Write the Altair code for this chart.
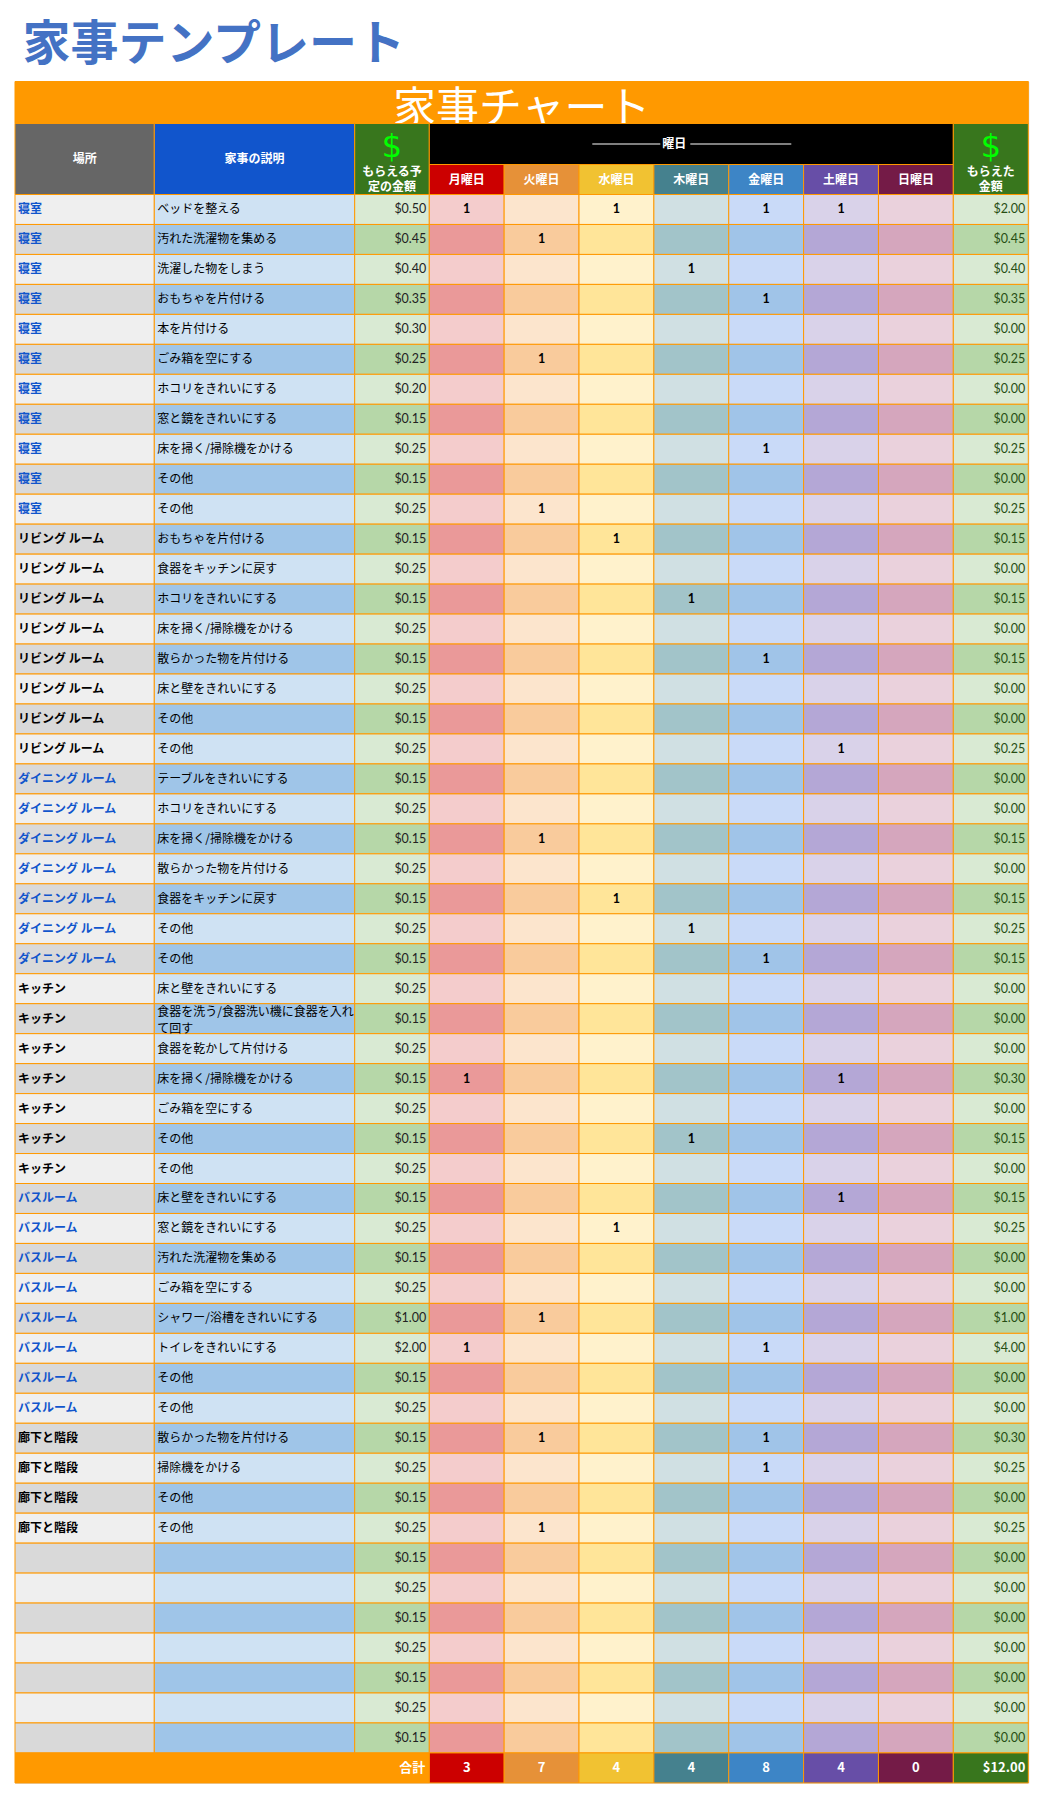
import altair as alt
import pandas as pd

# ---------------- data ----------------
title_text = "家事テンプレート"
chart_heading = "家事チャート"
col_headers = ["場所", "家事の説明"]
planned_header = ["もらえる予", "定の金額"]
earned_header = ["もらえた", "金額"]
dollar_sign = "$"
days_header = "曜日"
days = ["月曜日", "火曜日", "水曜日", "木曜日", "金曜日", "土曜日", "日曜日"]
total_label = "合計"

locations = (["寝室"] * 11 + ["リビング ルーム"] * 8 + ["ダイニング ルーム"] * 7
             + ["キッチン"] * 7 + ["バスルーム"] * 8 + ["廊下と階段"] * 4 + [""] * 7)

chores = [
    "ベッドを整える", "汚れた洗濯物を集める", "洗濯した物をしまう", "おもちゃを片付ける",
    "本を片付ける", "ごみ箱を空にする", "ホコリをきれいにする", "窓と鏡をきれいにする",
    "床を掃く/掃除機をかける", "その他", "その他",
    "おもちゃを片付ける", "食器をキッチンに戻す", "ホコリをきれいにする", "床を掃く/掃除機をかける",
    "散らかった物を片付ける", "床と壁をきれいにする", "その他", "その他",
    "テーブルをきれいにする", "ホコリをきれいにする", "床を掃く/掃除機をかける", "散らかった物を片付ける",
    "食器をキッチンに戻す", "その他", "その他",
    "床と壁をきれいにする", "食器を洗う/食器洗い機に食器を入れ\nて回す", "食器を乾かして片付ける",
    "床を掃く/掃除機をかける", "ごみ箱を空にする", "その他", "その他",
    "床と壁をきれいにする", "窓と鏡をきれいにする", "汚れた洗濯物を集める", "ごみ箱を空にする",
    "シャワー/浴槽をきれいにする", "トイレをきれいにする", "その他", "その他",
    "散らかった物を片付ける", "掃除機をかける", "その他", "その他",
    "", "", "", "", "", "", "",
]

planned = [
    0.50, 0.45, 0.40, 0.35, 0.30, 0.25, 0.20, 0.15, 0.25, 0.15, 0.25,
    0.15, 0.25, 0.15, 0.25, 0.15, 0.25, 0.15, 0.25,
    0.15, 0.25, 0.15, 0.25, 0.15, 0.25, 0.15,
    0.25, 0.15, 0.25, 0.15, 0.25, 0.15, 0.25,
    0.15, 0.25, 0.15, 0.25, 1.00, 2.00, 0.15, 0.25,
    0.15, 0.25, 0.15, 0.25,
    0.15, 0.25, 0.15, 0.25, 0.15, 0.25, 0.15,
]

# rows (1-based) with a "1" for each day
done_mon = [1, 30, 39]
done_tue = [2, 6, 11, 22, 38, 42, 45]
done_wed = [1, 12, 24, 35]
done_thu = [3, 14, 25, 32]
done_fri = [1, 4, 9, 16, 26, 39, 42, 43]
done_sat = [1, 19, 30, 34]
done_sun = []

earned = [
    2.00, 0.45, 0.40, 0.35, 0.00, 0.25, 0.00, 0.00, 0.25, 0.00, 0.25,
    0.15, 0.00, 0.15, 0.00, 0.15, 0.00, 0.00, 0.25,
    0.00, 0.00, 0.15, 0.00, 0.15, 0.25, 0.15,
    0.00, 0.00, 0.00, 0.30, 0.00, 0.15, 0.00,
    0.15, 0.25, 0.00, 0.00, 1.00, 4.00, 0.00, 0.00,
    0.30, 0.25, 0.00, 0.25,
    0.00, 0.00, 0.00, 0.00, 0.00, 0.00, 0.00,
]

day_totals = [3, 7, 4, 4, 8, 4, 0]
grand_total = 12.00

# ---------------- layout & style ----------------
col_w = [139.3, 200.4, 74.6] + [74.86] * 7 + [75.0]
xb = [0.0]
for w in col_w:
    xb.append(xb[-1] + w)
W = xb[-1]
band_h, head1_h, head2_h, row_h = 42, 41, 30, 29.97
n = len(chores)
hy0 = band_h
hmid = band_h + head1_h
hy1 = hmid + head2_h
fy0 = hy1 + n * row_h
H = fy0 + 30

ORANGE = "#FF9900"
day_colors = ["#CC0000", "#E69138", "#F1C232", "#45818E", "#3D85C6", "#674EA7", "#741B47"]
col_fill = [("#EFEFEF", "#D9D9D9"), ("#CFE2F3", "#9FC5E8"), ("#D9EAD3", "#B6D7A8"),
            ("#F4CCCC", "#EA9999"), ("#FCE5CD", "#F9CB9C"), ("#FFF2CC", "#FFE599"),
            ("#D0E0E3", "#A2C4C9"), ("#C9DAF8", "#A0C4E8"), ("#D9D2E9", "#B4A7D6"),
            ("#EAD1DC", "#D5A6BD"), ("#D9EAD3", "#B6D7A8")]
loc_color = {"寝室": "#1155CC", "リビング ルーム": "#000000", "ダイニング ルーム": "#1155CC",
             "キッチン": "#000000", "バスルーム": "#1155CC", "廊下と階段": "#000000", "": "#000000"}
CJK = "Noto Sans CJK JP"
NUM = "Lato, Noto Sans CJK JP"
NARROW = "Liberation Sans Narrow, Noto Sans CJK JP"

xs = alt.Scale(domain=[0, W], range=[0, W], nice=False, zero=False)
ys = alt.Scale(domain=[0, H], range=[0, H], nice=False, zero=False)


def rect_layer(df, **kw):
    return alt.Chart(df).mark_rect(**kw).encode(
        x=alt.X("x0:Q", scale=xs, axis=None), x2="x1:Q",
        y=alt.Y("y0:Q", scale=ys, axis=None), y2="y1:Q",
        fill=alt.Fill("fill:N", scale=None),
    )


def text_layer(df, baseline="middle", **kw):
    return alt.Chart(df).mark_text(baseline=baseline, **kw).encode(
        x=alt.X("x:Q", scale=xs, axis=None),
        y=alt.Y("y:Q", scale=ys, axis=None),
        text="text:N",
        color=alt.Color("color:N", scale=None),
    )


# band
band_df = pd.DataFrame([dict(x0=0, x1=W, y0=0, y1=band_h, fill=ORANGE)])
band_text_df = pd.DataFrame([dict(x=W / 2, y=41, text=chart_heading, color="#FFFFFF")])

# rects: header, cells, footer
rects = []
rects.append(dict(x0=xb[0], x1=xb[1], y0=hy0, y1=hy1, fill="#666666"))
rects.append(dict(x0=xb[1], x1=xb[2], y0=hy0, y1=hy1, fill="#1155CC"))
rects.append(dict(x0=xb[2], x1=xb[3], y0=hy0, y1=hy1, fill="#38761D"))
rects.append(dict(x0=xb[3], x1=xb[10], y0=hy0, y1=hmid, fill="#000000"))
for i in range(7):
    rects.append(dict(x0=xb[3 + i], x1=xb[4 + i], y0=hmid, y1=hy1, fill=day_colors[i]))
rects.append(dict(x0=xb[10], x1=xb[11], y0=hy0, y1=hy1, fill="#38761D"))
for r in range(n):
    for c in range(11):
        rects.append(dict(x0=xb[c], x1=xb[c + 1], y0=hy1 + r * row_h, y1=hy1 + (r + 1) * row_h,
                          fill=col_fill[c][r % 2]))
rects.append(dict(x0=xb[0], x1=xb[3], y0=fy0, y1=H, fill=ORANGE))
for i in range(7):
    rects.append(dict(x0=xb[3 + i], x1=xb[4 + i], y0=fy0, y1=H, fill=day_colors[i]))
rects.append(dict(x0=xb[10], x1=xb[11], y0=fy0, y1=H, fill="#38761D"))
rect_df = pd.DataFrame(rects)

# header texts
hdr = []
hdr.append(dict(x=(xb[0] + xb[1]) / 2, y=(hy0 + hy1) / 2, text=col_headers[0], color="#FFFFFF"))
hdr.append(dict(x=(xb[1] + xb[2]) / 2, y=(hy0 + hy1) / 2, text=col_headers[1], color="#FFFFFF"))
for k, t in enumerate(planned_header):
    hdr.append(dict(x=(xb[2] + xb[3]) / 2, y=hy0 + 48 + 15 * k, text=t, color="#FFFFFF"))
for k, t in enumerate(earned_header):
    hdr.append(dict(x=(xb[10] + xb[11]) / 2, y=hy0 + 48 + 15 * k, text=t, color="#FFFFFF"))
dmid = (xb[3] + xb[10]) / 2
hdr.append(dict(x=dmid - 17, y=(hy0 + hmid) / 2, text=days_header, color="#FFFFFF"))
for i in range(7):
    hdr.append(dict(x=(xb[3 + i] + xb[4 + i]) / 2, y=(hmid + hy1) / 2, text=days[i], color="#FFFFFF"))
hdr_df = pd.DataFrame(hdr)

dollar_df = pd.DataFrame([
    dict(x=(xb[2] + xb[3]) / 2, y=hy0 + 23, text=dollar_sign, color="#00FF00"),
    dict(x=(xb[10] + xb[11]) / 2, y=hy0 + 23, text=dollar_sign, color="#00FF00"),
])

line_df = pd.DataFrame([
    dict(x0=dmid - 99, x1=dmid - 31, y0=(hy0 + hmid) / 2),
    dict(x0=dmid - 1, x1=dmid + 100, y0=(hy0 + hmid) / 2),
])

# data texts
ymid = [hy1 + r * row_h + row_h / 2 for r in range(n)]
loc_df = pd.DataFrame(dict(x=[xb[0] + 3] * n, y=ymid, text=locations,
                           color=[loc_color[l] for l in locations]))
desc_rows = []
for r, t in enumerate(chores):
    parts = t.split("\n")
    if len(parts) == 1:
        desc_rows.append(dict(x=xb[1] + 3, y=ymid[r], text=t, color="#000000"))
    else:
        desc_rows.append(dict(x=xb[1] + 3, y=ymid[r] - 6.5, text=parts[0], color="#000000"))
        desc_rows.append(dict(x=xb[1] + 3, y=ymid[r] + 10, text=parts[1], color="#000000"))
desc_df = pd.DataFrame(desc_rows)
plan_df = pd.DataFrame(dict(x=[xb[3] - 3] * n, y=ymid, text=[f"${v:.2f}" for v in planned],
                            color=["#222222"] * n))
earn_df = pd.DataFrame(dict(x=[xb[11] - 3] * n, y=ymid, text=[f"${v:.2f}" for v in earned],
                            color=["#274E13"] * n))
ones = []
for i, rows in enumerate([done_mon, done_tue, done_wed, done_thu, done_fri, done_sat, done_sun]):
    for r in rows:
        ones.append(dict(x=(xb[3 + i] + xb[4 + i]) / 2, y=ymid[r - 1], text="1", color="#000000"))
ones_df = pd.DataFrame(ones)

# footer texts
fy = fy0 + 15
foot_right_df = pd.DataFrame([
    dict(x=xb[3] - 4, y=fy, text=total_label, color="#FFFFFF"),
    dict(x=xb[11] - 3, y=fy, text=f"${grand_total:.2f}", color="#FFFFFF"),
])
foot_center_df = pd.DataFrame([
    dict(x=(xb[3 + i] + xb[4 + i]) / 2, y=fy, text=str(day_totals[i]), color="#FFFFFF")
    for i in range(7)
])

layers = [
    rect_layer(band_df, stroke=ORANGE, strokeWidth=1),
    text_layer(band_text_df, baseline="alphabetic", align="center", font=CJK, fontSize=43),
    rect_layer(rect_df, stroke=ORANGE, strokeWidth=1),
    alt.Chart(line_df).mark_rule(color="#FFFFFF", strokeWidth=1).encode(
        x=alt.X("x0:Q", scale=xs, axis=None), x2="x1:Q",
        y=alt.Y("y0:Q", scale=ys, axis=None)),
    text_layer(hdr_df, align="center", font=CJK, fontSize=12, fontWeight="bold"),
    text_layer(dollar_df, align="center", font="DejaVu Sans", fontSize=32),
    text_layer(loc_df, align="left", font=CJK, fontSize=12, fontWeight="bold"),
    text_layer(desc_df, align="left", font=CJK, fontSize=12),
    text_layer(plan_df, align="right", font=NUM, fontSize=12.5),
    text_layer(earn_df, align="right", font=NUM, fontSize=12.5),
    text_layer(ones_df, align="center", font=NUM, fontSize=12.5, fontWeight="bold"),
    text_layer(foot_right_df, align="right", font=NARROW, fontSize=13, fontWeight="bold"),
    text_layer(foot_center_df, align="center", font=NARROW, fontSize=13, fontWeight="bold"),
]

chart = alt.layer(*layers).properties(
    width=W, height=H,
    autosize="none",
    padding={"left": 7, "top": 73.5, "right": 5, "bottom": 2},
    title=alt.TitleParams(text=title_text, anchor="start", fontSize=48, font=CJK,
                          fontWeight="bold", color="#4472C4", offset=20, dx=8, dy=47,
                          baseline="alphabetic"),
).configure_view(stroke=None).configure(background="#FFFFFF")

chart.save("out.html", embed_options={"renderer": "svg", "actions": False})
